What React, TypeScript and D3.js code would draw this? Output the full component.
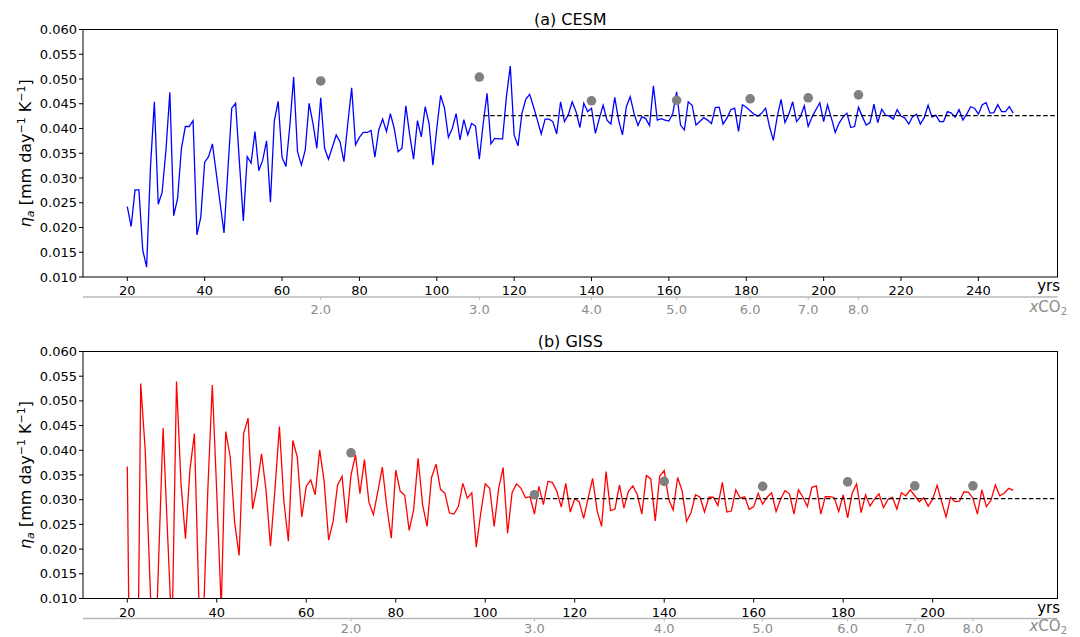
import React from "react";
import * as d3 from "d3";

// eta_a per year (first value is year 20)
const cesmStart = 20;
const cesmValues = [
  0.0242, 0.0202, 0.0276, 0.0276, 0.0154, 0.012, 0.0323, 0.0454, 0.0247, 0.0271,
  0.0357, 0.0473, 0.0224, 0.0259, 0.036, 0.0404, 0.0404, 0.0416, 0.0185, 0.0221,
  0.0332, 0.0343, 0.0369, 0.031, 0.0249, 0.0189, 0.0316, 0.0441, 0.0451, 0.033,
  0.0213, 0.0343, 0.033, 0.0394, 0.0315, 0.0336, 0.0375, 0.0251, 0.0415, 0.0455,
  0.0342, 0.0323, 0.0404, 0.0504, 0.0353, 0.0326, 0.0357, 0.0451, 0.041, 0.036,
  0.0462, 0.036, 0.0338, 0.0362, 0.0387, 0.0373, 0.0333, 0.041, 0.0482, 0.0367,
  0.0382, 0.0392, 0.0392, 0.0396, 0.0342, 0.0397, 0.0419, 0.0394, 0.043, 0.04,
  0.0353, 0.036, 0.0446, 0.0387, 0.0338, 0.0416, 0.0383, 0.0444, 0.041, 0.0326,
  0.04, 0.0467, 0.0441, 0.0382, 0.04, 0.043, 0.0377, 0.0418, 0.0387, 0.041,
  0.0405, 0.0338, 0.041, 0.0471, 0.0369, 0.038, 0.0379, 0.0379, 0.0464, 0.0526,
  0.0387, 0.0365, 0.043, 0.0459, 0.0469, 0.0444, 0.0417, 0.0389, 0.0419, 0.0419,
  0.0414, 0.0389, 0.0454, 0.0414, 0.0428, 0.0454, 0.0434, 0.0402, 0.0451, 0.0434,
  0.0441, 0.039, 0.042, 0.0447, 0.0417, 0.0409, 0.0463, 0.0417, 0.0387, 0.0444,
  0.0464, 0.043, 0.0406, 0.0424, 0.042, 0.0406, 0.0486, 0.0417, 0.042, 0.0417,
  0.0415, 0.043, 0.0474, 0.0407, 0.0397, 0.0454, 0.0447, 0.0407, 0.0414, 0.0422,
  0.0417, 0.041, 0.0442, 0.0443, 0.0409, 0.0421, 0.0438, 0.0441, 0.0394, 0.0448,
  0.0443, 0.0436, 0.0429, 0.0425, 0.0431, 0.0441, 0.0404, 0.0376, 0.0424, 0.0459,
  0.0412, 0.0429, 0.0454, 0.0414, 0.0424, 0.0446, 0.0404, 0.0423, 0.0438, 0.0452,
  0.0414, 0.0448, 0.0421, 0.0392, 0.0411, 0.0423, 0.0431, 0.0402, 0.0404, 0.0443,
  0.0424, 0.0407, 0.0412, 0.0449, 0.0412, 0.0439, 0.0427, 0.0425, 0.0419, 0.0438,
  0.0425, 0.0421, 0.0409, 0.0424, 0.0429, 0.0409, 0.0422, 0.0447, 0.0423, 0.0427,
  0.0414, 0.0414, 0.0434, 0.0431, 0.0423, 0.0438, 0.0417, 0.0429, 0.0444, 0.0441,
  0.0429, 0.0448, 0.0452, 0.0431, 0.0432, 0.0448, 0.0434, 0.0434, 0.0444, 0.0431,
];

const gissStart = 20;
const gissValues = [
  0.0367, -0.05, -0.04, 0.0535, 0.0401, 0.0152, -0.009, 0.0177, 0.0445, 0.0231,
  0.0023, 0.0539, 0.0333, 0.0221, 0.036, 0.0434, 0.0095, 0.0054, 0.032, 0.0532,
  0.0313, 0.008, 0.0438, 0.0387, 0.0253, 0.0187, 0.0434, 0.0465, 0.0281, 0.0327,
  0.0393, 0.032, 0.0206, 0.032, 0.0448, 0.0296, 0.0216, 0.042, 0.0386, 0.0265,
  0.0327, 0.034, 0.031, 0.0401, 0.0337, 0.0218, 0.0256, 0.033, 0.0347, 0.0253,
  0.035, 0.0391, 0.0312, 0.0381, 0.0295, 0.027, 0.0317, 0.0366, 0.0286, 0.0222,
  0.036, 0.0317, 0.0309, 0.0238, 0.028, 0.0384, 0.029, 0.0246, 0.0345, 0.0372,
  0.0321, 0.0313, 0.0273, 0.0271, 0.0286, 0.0333, 0.0303, 0.0314, 0.0204, 0.0273,
  0.0332, 0.0323, 0.0246, 0.0323, 0.0365, 0.0232, 0.0314, 0.0332, 0.0323, 0.0304,
  0.0306, 0.0271, 0.0327, 0.029, 0.0337, 0.0335, 0.0317, 0.0285, 0.0333, 0.0275,
  0.0302, 0.0296, 0.0262, 0.0303, 0.0343, 0.0278, 0.0246, 0.0357, 0.0278, 0.0281,
  0.033, 0.0283, 0.0317, 0.0328, 0.031, 0.0271, 0.0349, 0.0342, 0.0257, 0.0348,
  0.0359, 0.0301, 0.0279, 0.0345, 0.0318, 0.0256, 0.0274, 0.031, 0.0305, 0.0275,
  0.0305, 0.0305, 0.0288, 0.0335, 0.0275, 0.0277, 0.032, 0.0303, 0.0306, 0.028,
  0.0286, 0.0313, 0.0291, 0.0305, 0.0314, 0.0276, 0.0301, 0.0318, 0.0312, 0.0271,
  0.032, 0.0305, 0.0286, 0.0325, 0.0328, 0.0271, 0.0306, 0.0306, 0.0304, 0.0276,
  0.031, 0.0263, 0.0313, 0.0332, 0.0274, 0.031, 0.0287, 0.0301, 0.0312, 0.0284,
  0.03, 0.0305, 0.0281, 0.0314, 0.0308, 0.032, 0.0308, 0.0296, 0.0304, 0.0287,
  0.0301, 0.0329, 0.0296, 0.0265, 0.0305, 0.0296, 0.0297, 0.0316, 0.0315, 0.0303,
  0.0271, 0.032, 0.0286, 0.0298, 0.033, 0.0308, 0.0313, 0.0323, 0.0319,
];

// CO2 multiples (1%/yr) on the secondary axis
const co2Years = [70, 111, 140, 162, 181, 196, 209];
const co2Labels = ["2.0", "3.0", "4.0", "5.0", "6.0", "7.0", "8.0"];
const cesmDots = [0.0496, 0.0504, 0.0456, 0.0457, 0.046, 0.0462, 0.0468];
const gissDots = [0.0395, 0.031, 0.0337, 0.0327, 0.0336, 0.0328, 0.0328];

const cesmLevel = 0.0426;
const gissLevel = 0.0302;
const levelFrom = 112;

const cesmTicks = [20, 40, 60, 80, 100, 120, 140, 160, 180, 200, 220, 240];
const gissTicks = [20, 40, 60, 80, 100, 120, 140, 160, 180, 200];
const yTicks = [0.01, 0.015, 0.02, 0.025, 0.03, 0.035, 0.04, 0.045, 0.05, 0.055, 0.06];

const W = 1080;
const H = 637;
const left = 83;
const right = 1057.5;
const font = "DejaVu Sans, sans-serif";
const grey = "#808080";

const Panel = ({ id, title, start, values, color, dots, level, ticks, top, bottom, co2Lift }) => {
  const last = start + values.length - 1;
  const pad = (last - start) * 0.05;
  const x = d3.scaleLinear().domain([start - pad, last + pad]).range([left, right]);
  const y = d3.scaleLinear().domain([0.01, 0.06]).range([bottom, top]);
  const line = d3
    .line<number>()
    .x((d, i) => x(start + i))
    .y((d) => y(d));
  const co2Y = bottom + 20;
  const cy = (top + bottom) / 2;

  return (
    <g fontFamily={font}>
      <defs>
        <clipPath id={id}>
          <rect x={left} y={top} width={right - left} height={bottom - top} />
        </clipPath>
      </defs>
      <text x={(left + right) / 2} y={top - 5} textAnchor="middle" fontSize={16}>
        {title}
      </text>

      <g clipPath={`url(#${id})`}>
        <path d={line(values)} fill="none" stroke={color} strokeWidth={1.3} />
        <line
          x1={x(levelFrom)}
          x2={right}
          y1={y(level)}
          y2={y(level)}
          stroke="#000"
          strokeWidth={1.2}
          strokeDasharray="4.5,2.5"
        />
      </g>
      {dots.map((v, i) => (
        <circle key={i} cx={x(co2Years[i])} cy={y(v)} r={4.8} fill={grey} />
      ))}

      <rect x={left} y={top} width={right - left} height={bottom - top} fill="none" stroke="#000" strokeWidth={1} />

      {yTicks.map((t) => (
        <g key={t}>
          <line x1={left - 4} x2={left} y1={y(t)} y2={y(t)} stroke="#000" />
          <text x={left - 6} y={y(t) + 4.5} textAnchor="end" fontSize={13}>
            {t.toFixed(3)}
          </text>
        </g>
      ))}
      {ticks.map((t) => (
        <g key={t}>
          <line x1={x(t)} x2={x(t)} y1={bottom} y2={bottom + 4} stroke="#000" />
          <text x={x(t)} y={bottom + 18} textAnchor="middle" fontSize={13}>
            {t}
          </text>
        </g>
      ))}
      <text x={1060} y={bottom + 14} textAnchor="end" fontSize={15}>
        yrs
      </text>

      <line x1={left} x2={right} y1={co2Y} y2={co2Y} stroke="#b8b8b8" strokeWidth={1.5} />
      {co2Years.map((t, i) => (
        <g key={t}>
          <line x1={x(t)} x2={x(t)} y1={co2Y} y2={co2Y + 3} stroke="#b8b8b8" />
          <text x={x(t)} y={co2Y + 17 - co2Lift} textAnchor="middle" fontSize={13} fill="#8c8c8c">
            {co2Labels[i]}
          </text>
        </g>
      ))}
      <text x={1067} y={co2Y + 15 - co2Lift} textAnchor="end" fontSize={15} fill="#8c8c8c">
        <tspan fontStyle="italic">x</tspan>CO
        <tspan fontSize={10} dy={3}>2</tspan>
      </text>

      <text transform={`translate(31,${cy}) rotate(-90)`} textAnchor="middle" fontSize={16}>
        <tspan fontStyle="italic">η</tspan>
        <tspan fontStyle="italic" fontSize={11} dy={3}>a</tspan>
        <tspan dy={-3}> [mm day</tspan>
        <tspan fontSize={11} dy={-6}>−1</tspan>
        <tspan dy={6}> K</tspan>
        <tspan fontSize={11} dy={-6}>−1</tspan>
        <tspan dy={6}>]</tspan>
      </text>
    </g>
  );
};

export default function App() {
  return (
    <svg
      width={W}
      height={H}
      style={{ position: "absolute", left: 0, top: 0, background: "#fff" }}
    >
      <Panel
        id="clipA"
        title="(a) CESM"
        start={cesmStart}
        values={cesmValues}
        color="#0000ff"
        dots={cesmDots}
        level={cesmLevel}
        ticks={cesmTicks}
        top={29.5}
        bottom={277}
        co2Lift={0}
      />
      <Panel
        id="clipB"
        title="(b) GISS"
        start={gissStart}
        values={gissValues}
        color="#ff0000"
        dots={gissDots}
        level={gissLevel}
        ticks={gissTicks}
        top={351.5}
        bottom={598.5}
        co2Lift={3}
      />
    </svg>
  );
}
